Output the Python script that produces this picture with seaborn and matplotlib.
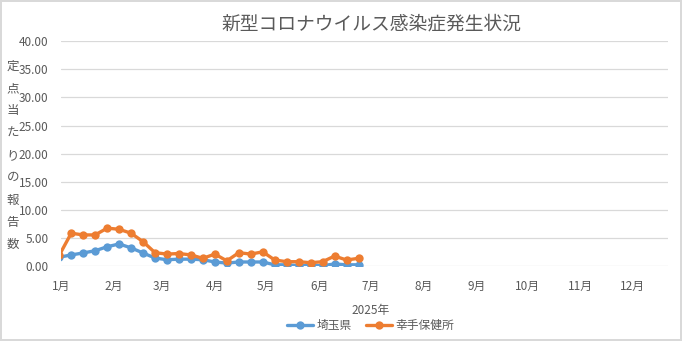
import pandas as pd
import seaborn as sns
import matplotlib
matplotlib.use("Agg")
import matplotlib.pyplot as plt
import matplotlib.dates as mdates
from matplotlib.ticker import FuncFormatter, MultipleLocator

# weekly data
dates = pd.date_range("2024-12-31", periods=26, freq="7D")
saitama = [1.65, 2.05, 2.4, 2.8, 3.5, 4.0, 3.3, 2.4, 1.5, 1.2, 1.3, 1.3, 1.2,
           0.8, 0.6, 0.8, 0.8, 0.8, 0.3, 0.3, 0.15, 0.15, 0.15, 0.45, 0.3, 0.3]
satte = [2.0, 5.9, 5.6, 5.6, 6.8, 6.6, 5.9, 4.4, 2.45, 2.2, 2.3, 2.05, 1.45,
         2.2, 1.0, 2.45, 2.2, 2.6, 1.15, 0.85, 0.85, 0.67, 0.85, 1.85, 1.15, 1.45]
series_names = ["埼玉県", "幸手保健所"]
colors = ["#5B9BD5", "#ED7D31"]

df = pd.concat([
    pd.DataFrame({"date": dates, "value": saitama, "series": series_names[0]}),
    pd.DataFrame({"date": dates, "value": satte, "series": series_names[1]}),
])

sns.set_style("white")
plt.rcParams["font.family"] = ["Noto Sans CJK JP", "DejaVu Sans"]
gray = "#595959"

fig = plt.figure(figsize=(6.82, 3.41), dpi=100)
fig.patch.set_edgecolor("#D9D9D9")
fig.patch.set_linewidth(1.5)
ax = fig.add_axes([0.0894, 0.2185, 0.8901, 0.6613])

sns.lineplot(data=df, x="date", y="value", hue="series",
             palette=dict(zip(series_names, colors)), marker="o",
             markersize=6, markeredgewidth=0, linewidth=2.4, ax=ax)

ax.set_xlim(pd.Timestamp("2025-01-01"), pd.Timestamp("2025-12-22"))
ax.set_ylim(0, 40)
ax.yaxis.set_major_locator(MultipleLocator(5))
ax.yaxis.set_major_formatter(FuncFormatter(lambda v, p: f"{v:.2f}"))
ax.xaxis.set_major_locator(mdates.MonthLocator())
ax.xaxis.set_major_formatter(FuncFormatter(lambda v, p: f"{mdates.num2date(v).month}月"))
ax.grid(axis="y", color="#D9D9D9", linewidth=0.9)
ax.set_axisbelow(True)
for s in ax.spines.values():
    s.set_visible(False)
ax.tick_params(length=0, labelsize=8.5, labelcolor=gray)
ax.tick_params(axis="y", pad=9)
ax.tick_params(axis="x", pad=10)
ax.set_xlabel("")
ax.set_ylabel("")

fig.text(0.544, 0.93, "新型コロナウイルス感染症発生状況", ha="center", va="center",
         fontsize=13.5, color=gray)
fig.text(0.019, 0.544, "\n".join("定点当たりの報告数"), ha="center", va="center",
         fontsize=9, color=gray, linespacing=1.93)
fig.text(0.544, 0.088, "2025年", ha="center", va="center", fontsize=8.5, color=gray)

handles, labels = ax.get_legend_handles_labels()
ax.legend(handles, labels, loc="center", bbox_to_anchor=(0.543, 0.045),
          bbox_transform=fig.transFigure, ncol=2, frameon=False,
          fontsize=8.5, labelcolor=gray, handlelength=2.2, handletextpad=0.3,
          columnspacing=1.2)

fig.savefig("out.png", dpi=100)
